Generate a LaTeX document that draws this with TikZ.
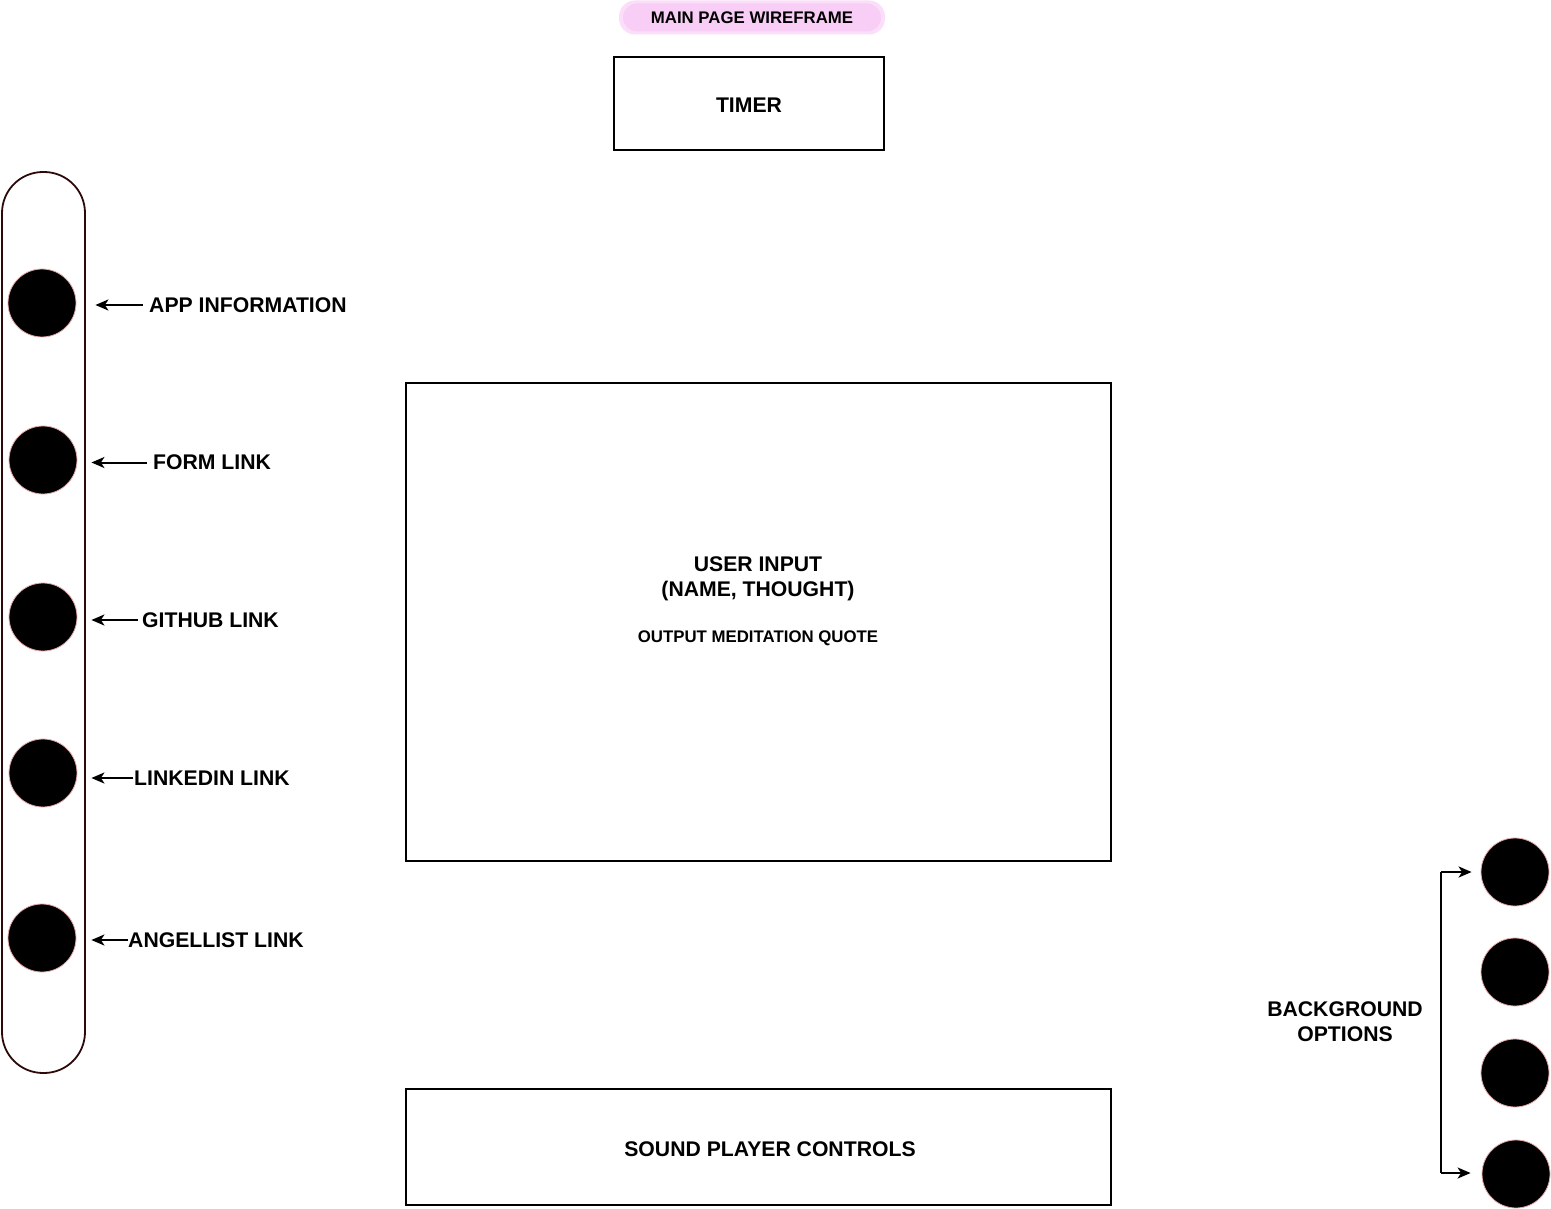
\documentclass[tikz,border=0pt]{standalone}
\usepackage{fontspec}
\setmainfont{Liberation Sans}
\usetikzlibrary{arrows.meta,calc}
\definecolor{pillpink}{RGB}{249,206,246}
\definecolor{pillhalo}{RGB}{251,222,249}
\definecolor{dotedge}{RGB}{230,170,170}
\definecolor{barline}{RGB}{45,10,10}
\newcommand{\lblfont}{\fontsize{21.2}{25}\selectfont\bfseries}
\newcommand{\smlfont}{\fontsize{16.8}{20}\selectfont\bfseries}
\begin{document}
\begin{tikzpicture}[x=1pt,y=-1pt,
  frame/.style={draw=black, line width=2, inner sep=0, font=\lblfont, align=center},
  dot/.style={circle, fill=black, draw=dotedge, line width=0.8, minimum size=68, inner sep=0},
  lab/.style={font=\lblfont, inner sep=0, anchor=west, text depth=0},
  arr/.style={-{Stealth[length=13pt, width=11pt, inset=3.5pt]}, line width=2pt}]
\useasboundingbox (0,0) rectangle (1551,1209);
% title
\node[fill=pillhalo, rounded corners=16, minimum width=266, minimum height=34, inner sep=0] (halo) at (752,17.5) {};
\node[fill=pillpink, rounded corners=14, minimum width=258, minimum height=28, inner sep=0, font=\smlfont] (title) at (752,17.5) {MAIN PAGE WIREFRAME};
% timer
\node[frame, minimum width=270, minimum height=93] (timer) at (749,103.5) {};
\node[font=\lblfont, inner sep=0, text depth=0] (timertxt) at (749,105.5) {TIMER};
% main box
\node[frame, minimum width=705, minimum height=478] (main) at (758.5,622) {};
\node[font=\lblfont, align=center, inner sep=0] (user) at (758,579) {USER INPUT\\(NAME, THOUGHT)};
\node[font=\smlfont, inner sep=0, text depth=0] (quote) at (758,636.5) {OUTPUT MEDITATION QUOTE};
% sound
\node[frame, minimum width=705, minimum height=116] (sound) at (758.5,1147) {};
\node[font=\lblfont, inner sep=0, text depth=0] (soundtxt) at (770,1149) {SOUND PLAYER CONTROLS};
% left bar
\node[draw=barline, line width=1.8, rounded corners=41, minimum width=83, minimum height=901, inner sep=0] (bar) at (43.5,622.5) {};
\node[dot] (c1) at (42,303) {};
\node[dot] (c2) at (43,460) {};
\node[dot] (c3) at (43,617) {};
\node[dot] (c4) at (43,773) {};
\node[dot] (c5) at (42,938) {};
\node[lab] (l1) at (149,305) {APP INFORMATION};
\node[lab] (l2) at (153,462.5) {FORM LINK};
\node[lab] (l3) at (142,620) {GITHUB LINK};
\node[lab] (l4) at (134,778) {LINKEDIN LINK};
\node[lab] (l5) at (128,940) {ANGELLIST LINK};
\draw[arr, shorten <=6, shorten >=19] (l1.west) -- (c1.east |- l1.west);
\draw[arr, shorten <=6, shorten >=14] (l2.west) -- (c2.east |- l2.west);
\draw[arr, shorten <=4, shorten >=14] (l3.west) -- (c3.east |- l3.west);
\draw[arr, shorten <=1, shorten >=14] (l4.west) -- (c4.east |- l4.west);
\draw[arr, shorten <=0, shorten >=15] (l5.west) -- (c5.east |- l5.west);
% right options
\node[dot] (r1) at (1515,872) {};
\node[dot] (r2) at (1515,972) {};
\node[dot] (r3) at (1515,1073) {};
\node[dot] (r4) at (1516,1174) {};
\node[font=\lblfont, align=center, inner sep=0] (bg) at (1345,1022) {BACKGROUND\\OPTIONS};
\coordinate (b1) at (1441,872);
\coordinate (b4) at (1441,1173);
\draw[line width=2] (b1) -- (b4);
\draw[arr, shorten >=9] (b1) -- (r1.west);
\draw[arr, shorten >=11] (b4) -- (r4.west |- b4);
\end{tikzpicture}
\end{document}
